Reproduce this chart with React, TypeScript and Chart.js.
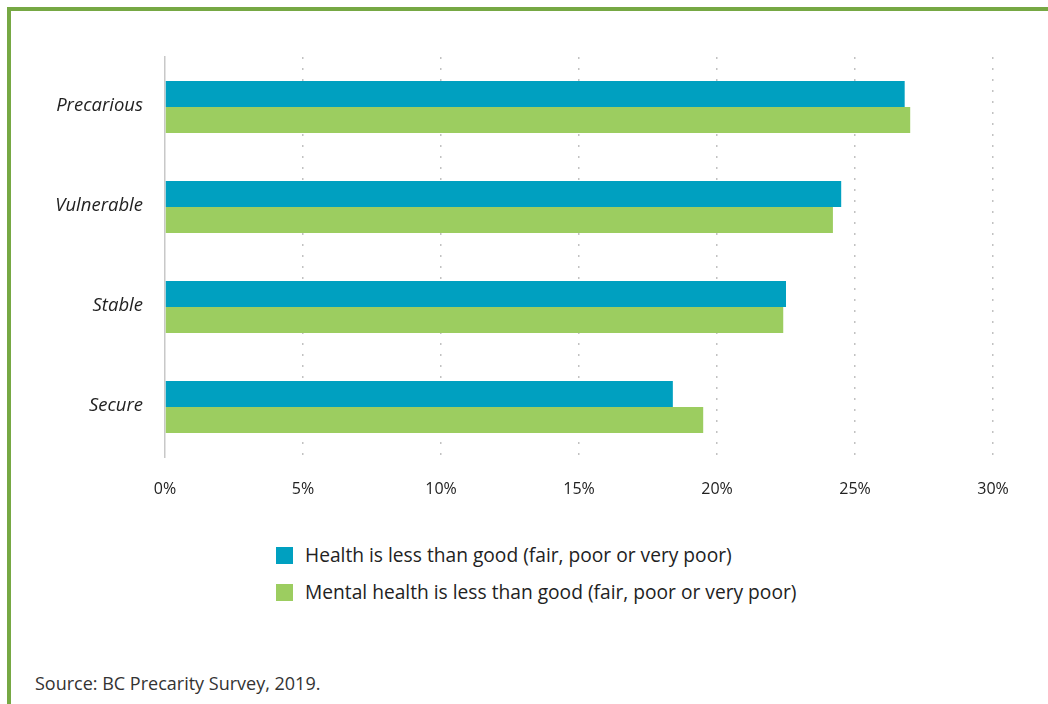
import React, { useEffect, useRef } from "react";
import { Chart, registerables } from "chart.js";

Chart.register(...registerables);

const categories = ["Precarious", "Vulnerable", "Stable", "Secure"];
const healthValues = [26.8, 24.5, 22.5, 18.4];
const mentalHealthValues = [27.0, 24.2, 22.4, 19.5];
const xTickLabels = ["0%", "5%", "10%", "15%", "20%", "25%", "30%"];
const seriesNames = [
  "Health is less than good (fair, poor or very poor)",
  "Mental health is less than good (fair, poor or very poor)",
];
const BLUE = "#00a0c0";
const GREEN = "#9ccd60";
const BORDER_GREEN = "#76a844";
const FONT = "'Open Sans', 'Noto Sans', sans-serif";

export default function App() {
  const ref = useRef<HTMLCanvasElement | null>(null);

  useEffect(() => {
    if (!ref.current) return;
    const chart = new Chart(ref.current, {
      type: "bar",
      data: {
        labels: categories,
        datasets: [
          {
            label: seriesNames[0],
            data: healthValues,
            backgroundColor: BLUE,
            barPercentage: 1,
            categoryPercentage: 0.52,
          },
          {
            label: seriesNames[1],
            data: mentalHealthValues,
            backgroundColor: GREEN,
            barPercentage: 1,
            categoryPercentage: 0.52,
          },
        ],
      },
      options: {
        indexAxis: "y",
        animation: false,
        responsive: false,
        maintainAspectRatio: false,
        layout: { padding: { top: 57, right: 55, left: 0, bottom: 0 } },
        plugins: { legend: { display: false }, tooltip: { enabled: false } },
        scales: {
          x: {
            min: 0,
            max: 30,
            ticks: {
              stepSize: 5,
              padding: 23,
              color: "#222",
              font: { family: FONT, size: 16 },
              callback: (_v: any, i: number) => xTickLabels[i],
            },
            grid: {
              color: (ctx: any) => (ctx.index === 0 ? "rgba(0,0,0,0)" : "#c2c2c2"),
              lineWidth: 1.5,
              drawTicks: false,
            },
            border: { display: false, dash: [2, 9] },
            afterFit: (s: any) => {
              s.height = 63;
            },
          },
          y: {
            ticks: {
              padding: 22,
              labelOffset: -1,
              color: "#222",
              font: { family: FONT, size: 18.5, style: "italic" },
            },
            grid: { display: false, drawTicks: false },
            border: { display: true, color: "#c8c8c8", width: 1.5 },
            afterFit: (s: any) => {
              s.width = 165;
            },
          },
        },
      },
    });
    return () => chart.destroy();
  }, []);

  return (
    <div
      style={{
        position: "absolute",
        left: 0,
        top: 0,
        width: 1048,
        height: 704,
        background: "#fff",
        overflow: "hidden",
        fontFamily: FONT,
      }}
    >
      <div style={{ position: "absolute", left: 7, top: 7, width: 1041, height: 4, background: BORDER_GREEN }} />
      <div style={{ position: "absolute", left: 7, top: 7, width: 4, height: 697, background: BORDER_GREEN }} />
      <canvas
        ref={ref}
        width={1048}
        height={520}
        style={{ position: "absolute", left: 0, top: 0, width: 1048, height: 520, display: "block" }}
      />
      <div style={{ position: "absolute", left: 276, top: 544 }}>
        {seriesNames.map((name, i) => (
          <div key={name} style={{ display: "flex", alignItems: "center", height: 23, marginBottom: i === 0 ? 14 : 0 }}>
            <span
              style={{
                display: "inline-block",
                width: 17,
                height: 17,
                background: i === 0 ? BLUE : GREEN,
                marginRight: 12,
              }}
            />
            <span style={{ fontSize: 19.2, color: "#222", whiteSpace: "nowrap", position: "relative", top: -1 }}>
              {name}
            </span>
          </div>
        ))}
      </div>
      <div style={{ position: "absolute", left: 35, top: 671, fontSize: 18, color: "#333", whiteSpace: "nowrap" }}>
        Source: BC Precarity Survey, 2019.
      </div>
    </div>
  );
}
